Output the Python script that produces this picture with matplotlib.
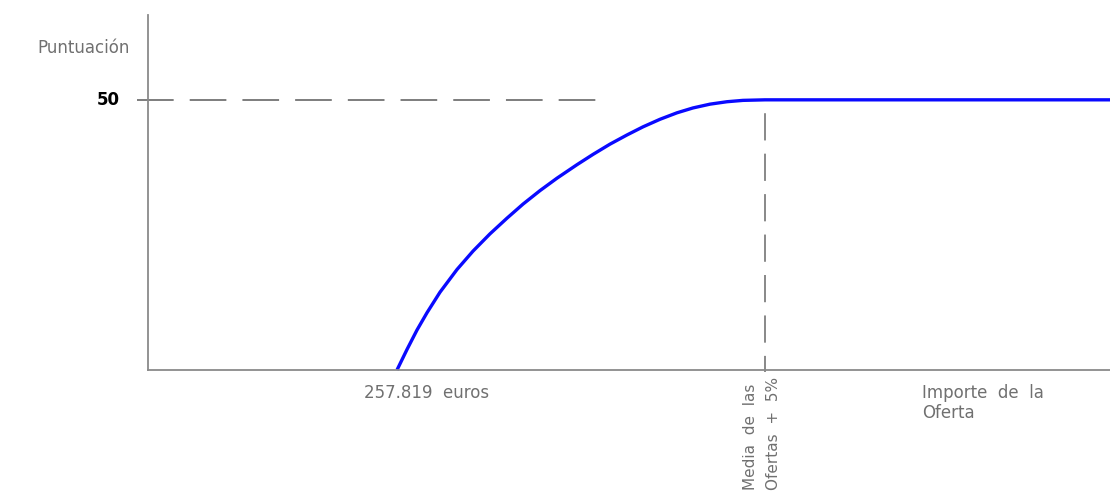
import matplotlib.pyplot as plt
import numpy as np

# curve (x in drawing units from the y axis, y = puntuacion)
curve_x = [249, 259, 269, 279, 292, 309, 325, 342, 359, 375, 392, 409,
           429, 445, 462, 479, 495, 512, 529, 545, 562, 579, 595, 617]
curve_y = [0, 3.8, 7.4, 10.6, 14.4, 18.6, 22.0, 25.2, 28.1, 30.7, 33.2, 35.5,
           38.0, 39.9, 41.8, 43.5, 45.0, 46.4, 47.6, 48.5, 49.2, 49.65, 49.9, 50]
flat_x = [617, 962]
flat_y = [50, 50]

max_score = 50
x_media = 617
x_min_label = 249
x_end = 962
y_top = 65.7

fig = plt.figure(figsize=(11.10, 4.97), dpi=100)
ax = fig.add_axes([148/1110, 127/497, 962/1110, 355/497])
ax.set_xlim(0, x_end)
ax.set_ylim(0, y_top)

# axes drawn as plain gray lines
for s in ['top', 'right']:
    ax.spines[s].set_visible(False)
for s in ['left', 'bottom']:
    ax.spines[s].set_color('#8a8a8a')
    ax.spines[s].set_linewidth(1.3)
ax.set_xticks([])
ax.set_yticks([])

# reference dashes
ax.plot([-11, 449], [max_score, max_score], color='#5a5a5a', lw=1.1,
        ls=(0, (24, 10.5)), clip_on=False)
ax.plot([x_media, x_media], [max_score, -0.4], color='#888888', lw=1.4,
        ls=(14, (14, 6.8)), clip_on=False)

# scoring curve
ax.plot(curve_x + flat_x[1:], curve_y + flat_y[1:], color='#0a0aff', lw=2.4,
        solid_capstyle='butt', solid_joinstyle='round', clip_on=False)

gray = '#707070'
ax.text(-111, 59.6, 'Puntuación', color=gray, fontsize=12, ha='left', va='center')
ax.text(-28, max_score, '50', color='black', fontsize=12, fontweight='bold',
        ha='right', va='center')
ax.text(x_min_label + 30, -4.2, '257.819  euros', color=gray, fontsize=12,
        ha='center', va='center')
ax.text(x_media - 3, -1.3, 'Media  de  las\nOfertas  +  5%', color=gray,
        fontsize=11, rotation=90, ha='center', va='top', linespacing=1.6,
        multialignment='left')
ax.text(774, -6.1, 'Importe  de  la\nOferta', color=gray, fontsize=12,
        ha='left', va='center', linespacing=1.2)

fig.savefig('out.png', dpi=100)
